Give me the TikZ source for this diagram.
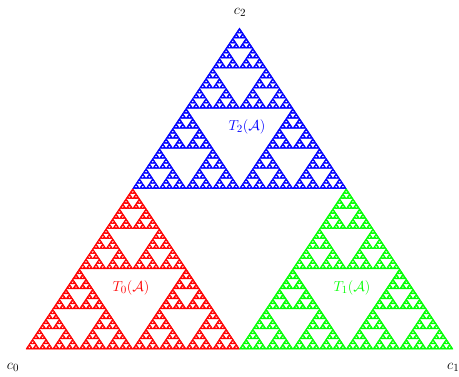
\documentclass[tikz,border=0pt]{standalone}
\usepackage{amsmath}
\newcommand\sierp[5]{%
  \ifnum#1=0
    \filldraw (#2pt,#3pt) -- ++(#4pt,0pt) -- ++(-#4pt/2,#5pt) -- cycle;
  \else
    \begingroup
    \pgfmathsetmacro\shw{#4/2}%
    \pgfmathsetmacro\shh{#5/2}%
    \pgfmathtruncatemacro\snl{#1-1}%
    \pgfmathsetmacro\sxm{#2+\shw}%
    \pgfmathsetmacro\sxq{#2+\shw/2}%
    \pgfmathsetmacro\sym{#3+\shh}%
    \edef\stmp{\noexpand\sierp{\snl}{#2}{#3}{\shw}{\shh}%
      \noexpand\sierp{\snl}{\sxm}{#3}{\shw}{\shh}%
      \noexpand\sierp{\snl}{\sxq}{\sym}{\shw}{\shh}}%
    \stmp
    \endgroup
  \fi}
\tikzset{lab/.style={inner sep=0pt, font=\fontsize{15}{18}\selectfont},
  fractal/.style={line width=0.5pt, line join=round}}
\begin{document}
\begin{tikzpicture}[x=1pt,y=1pt]
\useasboundingbox (0,0) rectangle (459,376);
\begin{scope}[red, fractal]
\sierp{6}{26}{27}{213.5}{160.5}
\end{scope}
\begin{scope}[green, fractal]
\sierp{6}{239.5}{27}{213.5}{160.5}
\end{scope}
\begin{scope}[blue, fractal]
\sierp{6}{132.75}{187.5}{213.5}{160.5}
\end{scope}
\node[lab] (c0) at (13,9) {$c_0$};
\node[lab, anchor=west] (c1) at (447,9) {$c_1$};
\node[lab] (c2) at (240,364) {$c_2$};
\node[lab, red] (t0) at (131,88) {$T_0(\mathcal{A})$};
\node[lab, green] (t1) at (352,88) {$T_1(\mathcal{A})$};
\node[lab, blue] (t2) at (247,249) {$T_2(\mathcal{A})$};
\end{tikzpicture}
\end{document}
